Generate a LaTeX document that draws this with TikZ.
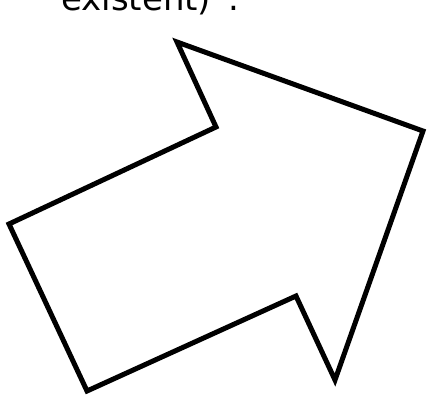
\documentclass[tikz,border=0pt]{standalone}
\usepackage{fontspec}
\setmainfont{DejaVu Sans}
\definecolor{ink}{HTML}{000000}
\tikzset{
  bigarrow/.style={draw=ink,fill=white,line width=5pt,line join=miter},
  caption/.style={font=\fontsize{34}{40}\selectfont,text=ink,anchor=base west,inner sep=0pt}
}
\begin{document}
\begin{tikzpicture}[x=1pt,y=-1pt]
    \useasboundingbox (0,0) rectangle (428,394);
    \clip (0,0) rectangle (428,394);
    \node[caption] (quote) at (61,10) {existent)”.};

    % corners of the arrow outline
    \coordinate (top) at (177,42);
    \coordinate (notchup) at (216,127);
    \coordinate (tailup) at (9,224);
    \coordinate (taildown) at (87,391);
    \coordinate (notchdown) at (296,296);
    \coordinate (barb) at (335,380);
    \coordinate (tip) at (423,131);

    \draw[bigarrow] (top) -- (notchup) -- (tailup) -- (taildown) -- (notchdown) -- (barb) -- (tip) -- cycle;
  \end{tikzpicture}
\end{document}
